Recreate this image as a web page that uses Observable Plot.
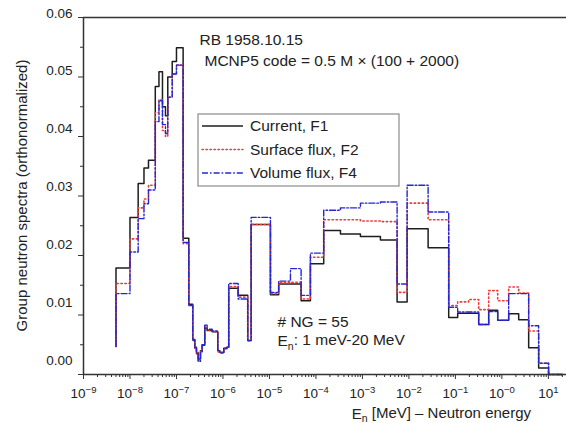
<!DOCTYPE html>
<html><head><meta charset="utf-8">
<script src="https://cdn.jsdelivr.net/npm/d3@7"></script>
<script src="https://cdn.jsdelivr.net/npm/@observablehq/plot@0.6"></script>
<style>
body{margin:0;background:#fff;}
#chart{width:566px;height:423px;}
</style></head><body><div id="chart"></div>
<script>
// Group boundaries (MeV)
const edges = [5e-9, 1e-8, 1.5e-8, 2e-8, 2.5e-8, 3.5e-8, 4.2e-8, 5e-8, 5.8e-8, 6.5e-8, 8.1e-8,
  1e-7, 1.39e-7, 1.84e-7, 2.24e-7, 2.48e-7, 2.69e-7, 2.93e-7, 3.28e-7, 3.57e-7, 4.06e-7, 4.57e-7,
  5.86e-7, 7.73e-7, 8.53e-7, 1.04e-6, 1.23e-6, 1.33e-6, 2.12e-6, 3.41e-6, 4.04e-6, 1.05e-5,
  1.58e-5, 2.83e-5, 4.8e-5, 7.6e-5, 1.47e-4, 3.37e-4, 9.06e-4, 2.44e-3, 5.57e-3, 9.15e-3,
  2.59e-2, 7.18e-2, 0.112, 0.193, 0.317, 0.52, 0.813, 1.4, 2.3, 3.77, 6.18, 10.1, 20];
// Group values
const current = [0.0179, 0.0264, 0.0321, 0.0347, 0.0360, 0.0484, 0.0509, 0.0450, 0.0435, 0.0500,
  0.0526, 0.0549, 0.0229, 0.0118, 0.0059, 0.0046, 0.0037, 0.0026, 0.0040, 0.0049, 0.0078,
  0.0074, 0.0072, 0.0040, 0.0037, 0.0044, 0.0046, 0.0145, 0.0133, 0.0057, 0.0252, 0.0134,
  0.0152, 0.0152, 0.0124, 0.0186, 0.0242, 0.0236, 0.0232, 0.0226, 0.0122, 0.0245, 0.0213,
  0.0096, 0.0103, 0.0103, 0.0084, 0.0108, 0.0091, 0.0102, 0.0092, 0.0045, 0.0011, 0.0000];
const surface = [0.0153, 0.0228, 0.0280, 0.0295, 0.0318, 0.0440, 0.0462, 0.0410, 0.0400, 0.0466,
  0.0505, 0.0520, 0.0220, 0.0116, 0.0057, 0.0044, 0.0036, 0.0024, 0.0039, 0.0050, 0.0081,
  0.0075, 0.0072, 0.0038, 0.0036, 0.0043, 0.0046, 0.0148, 0.0130, 0.0057, 0.0252, 0.0136,
  0.0154, 0.0155, 0.0127, 0.0197, 0.0260, 0.0260, 0.0258, 0.0257, 0.0138, 0.0288, 0.0260,
  0.0116, 0.0122, 0.0126, 0.0109, 0.0141, 0.0124, 0.0147, 0.0137, 0.0073, 0.0019, 0.0000];
const volume = [0.0136, 0.0206, 0.0262, 0.0287, 0.0310, 0.0425, 0.0460, 0.0420, 0.0405, 0.0466,
  0.0505, 0.0520, 0.0222, 0.0116, 0.0058, 0.0045, 0.0035, 0.0022, 0.0038, 0.0050, 0.0083,
  0.0076, 0.0073, 0.0040, 0.0037, 0.0044, 0.0046, 0.0153, 0.0127, 0.0057, 0.0264, 0.0138,
  0.0157, 0.0178, 0.0133, 0.0204, 0.0276, 0.0280, 0.0288, 0.0290, 0.0152, 0.0318, 0.0273,
  0.0113, 0.0105, 0.0105, 0.0084, 0.0106, 0.0091, 0.0136, 0.0136, 0.0082, 0.0019, 0.0000];
const startLevel = [0.0047, 0.0047, 0.0047];
const seriesNames = ["Current, F1", "Surface flux, F2", "Volume flux, F4"];

const xTicks = [1e-9, 1e-8, 1e-7, 1e-6, 1e-5, 1e-4, 1e-3, 1e-2, 1e-1, 1e0, 1e1];
const xTickExponents = ["\u22129", "\u22128", "\u22127", "\u22126", "\u22125", "\u22124", "\u22123", "\u22122", "\u22121", "\u22120", "1"];
const yTicks = [0, 0.01, 0.02, 0.03, 0.04, 0.05, 0.06];
const yTickLabels = ["0.00", "0.01", "0.02", "0.03", "0.04", "0.05", "0.06"];
const yMinor = [0.005, 0.015, 0.025, 0.035, 0.045, 0.055];
const xMinor = [];
for (let k = -9; k <= 1; k++) for (let m = 2; m <= 9; m++) { const v = m * Math.pow(10, k); if (v < 24) xMinor.push(v); }

const xMax = Math.pow(10, 1.39);
const font = '"Liberation Sans", Arial, Helvetica, sans-serif';

function stepPoints(vals, start) {
  const pts = [{E: edges[0], v: start}];
  vals.forEach((v, i) => pts.push({E: edges[i], v}));
  pts.push({E: edges[vals.length], v: vals[vals.length - 1]});
  return pts;
}

const styles = [
  {stroke: "#1e1e1e", strokeWidth: 1.5},
  {stroke: "#ec3b3b", strokeWidth: 1.6, strokeDasharray: "1.4,2.6", strokeLinecap: "round"},
  {stroke: "#2626d4", strokeWidth: 1.4, strokeDasharray: "6,2,1.6,2"}
];
const seriesData = [current, surface, volume];
const annoSize = 15.5;

const chart = Plot.plot({
  width: 566, height: 423,
  marginLeft: 83, marginRight: 0, marginTop: 17, marginBottom: 49,
  style: {fontFamily: font, fontSize: "13px", color: "#222", background: "#fff"},
  x: {type: "log", domain: [1e-9, xMax]},
  y: {domain: [0, 0.06]},
  marks: [
    Plot.axisX({ticks: xMinor, tickSize: 3, tickFormat: () => "", label: null, stroke: "#333"}),
    Plot.axisX({ticks: xTicks, tickSize: 5, tickPadding: 9, label: null, stroke: "#333", fontSize: 13.5,
      tickFormat: d => "10^" + xTickExponents[xTicks.indexOf(d)]}),
    Plot.axisY({ticks: yMinor, tickSize: 3, tickFormat: () => "", label: null, stroke: "#333"}),
    Plot.axisY({ticks: yTicks, tickSize: 5, tickPadding: 6, label: null, stroke: "#333", fontSize: 13.5,
      tickFormat: d => yTickLabels[yTicks.indexOf(d)]}),
    ...seriesData.map((vals, i) => Plot.line(stepPoints(vals, startLevel[i]), {x: "E", y: "v", curve: "step-after", ...styles[i]})),
    Plot.ruleX([1e-9], {stroke: "#333", strokeWidth: 1.5}),
    Plot.ruleY([0], {stroke: "#333", strokeWidth: 1.5}),
    Plot.ruleY([0.06], {stroke: "#333", strokeWidth: 1.5}),
    Plot.text(["RB 1958.10.15"], {frameAnchor: "top-left", dx: 116, dy: 23, textAnchor: "start", lineAnchor: "middle", fontSize: annoSize, fill: "#222"}),
    Plot.text(["MCNP5 code = 0.5 M \u00d7 (100 + 2000)"], {frameAnchor: "top-left", dx: 121, dy: 44, textAnchor: "start", lineAnchor: "middle", fontSize: annoSize, fill: "#222"}),
    Plot.text(["# NG = 55"], {frameAnchor: "top-left", dx: 194, dy: 305, textAnchor: "start", lineAnchor: "middle", fontSize: annoSize, fill: "#222"}),
    Plot.text(["E_n: 1 meV-20 MeV"], {frameAnchor: "top-left", dx: 194, dy: 324, textAnchor: "start", lineAnchor: "middle", fontSize: annoSize, fill: "#222"})
  ]
});
document.getElementById("chart").appendChild(chart);

const svg = d3.select(chart);
// superscripts in x tick labels
svg.selectAll('g[aria-label="x-axis tick label"] text').each(function() {
  const t = this.textContent;
  if (!t.startsWith("10^")) return;
  const exp = t.slice(3);
  const el = d3.select(this);
  el.text("");
  el.append("tspan").text("10");
  el.append("tspan").attr("dy", "-0.5em").attr("font-size", "9.5px").text(exp);
});
// y tick labels sit slightly above their ticks, increasingly toward the bottom
svg.selectAll('g[aria-label="y-axis tick label"] text').each(function() {
  const v = yTicks[yTickLabels.indexOf(this.textContent)];
  if (v === undefined) return;
  this.setAttribute("y", -10 * (0.06 - v) / 0.06);
});
// subscript helper
function subscriptify(sel) {
  sel.each(function() {
    const t = this.textContent;
    const idx = t.indexOf("E_n");
    if (idx < 0) return;
    const el = d3.select(this);
    el.text("");
    el.append("tspan").text(t.slice(0, idx) + "E");
    el.append("tspan").attr("dy", "0.3em").attr("font-size", "10.5px").text("n");
    el.append("tspan").attr("dy", "-0.3em").text(t.slice(idx + 3));
  });
}
subscriptify(svg.selectAll("text"));

// y-axis title
svg.append("text")
  .attr("transform", "translate(22,195.5) rotate(-90)")
  .attr("text-anchor", "middle").attr("dy", "0.35em")
  .attr("font-size", "15px").attr("fill", "#222")
  .text("Group neutron spectra (orthonormalized)");
// x-axis title
const xt = svg.append("text")
  .attr("x", 531).attr("y", 419)
  .attr("text-anchor", "end").attr("font-size", "15px").attr("fill", "#222")
  .text("E_n [MeV] \u2013 Neutron energy");
subscriptify(xt);

// legend
const lg = svg.append("g").attr("transform", "translate(198,114)");
lg.append("rect").attr("width", 201).attr("height", 72).attr("fill", "#fff").attr("stroke", "#8a8a8a").attr("stroke-width", 1.2);
seriesNames.forEach((name, i) => {
  const y = 12 + i * 23.5;
  const s = styles[i];
  lg.append("line").attr("x1", 4).attr("x2", 45).attr("y1", y).attr("y2", y)
    .attr("stroke", s.stroke).attr("stroke-width", s.strokeWidth)
    .attr("stroke-dasharray", s.strokeDasharray || null).attr("stroke-linecap", s.strokeLinecap || null);
  lg.append("text").attr("x", 52).attr("y", y).attr("dy", "0.35em")
    .attr("text-anchor", "start")
    .attr("font-size", annoSize + "px").attr("fill", "#222").text(name);
});
</script>
</body></html>
